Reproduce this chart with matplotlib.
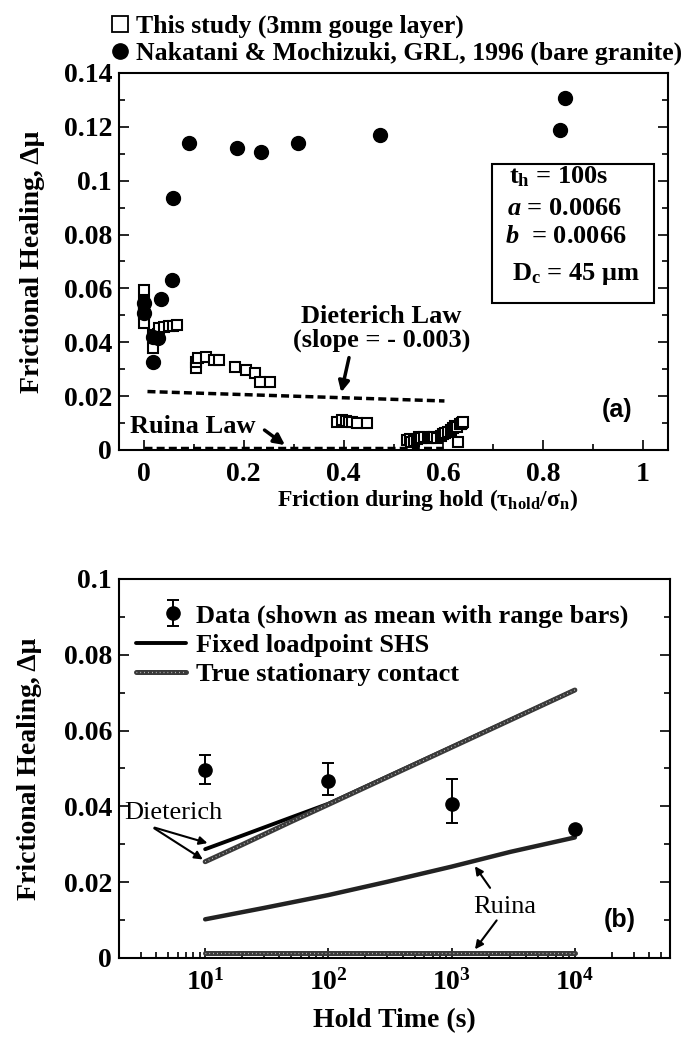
import math
import matplotlib
matplotlib.use("Agg")
import matplotlib.pyplot as plt
from matplotlib.lines import Line2D
from matplotlib.patches import Rectangle
from matplotlib.ticker import MultipleLocator, FuncFormatter
from matplotlib.legend_handler import HandlerTuple

# ---- Panel (a): healing vs friction during hold (t_h = 100 s)
study_tau = [0.001, 0.001, 0.001, 0.001, 0.001, 0.001, 0.018, 0.018, 0.028,
             0.031, 0.041, 0.051, 0.058, 0.066,
             0.105, 0.105, 0.108, 0.125, 0.141, 0.151,
             0.183, 0.205, 0.222, 0.232, 0.252,
             0.387, 0.397, 0.405, 0.410, 0.416, 0.426, 0.446,
             0.527, 0.532, 0.535, 0.541, 0.548, 0.552, 0.555, 0.562, 0.569,
             0.573, 0.578, 0.582, 0.587, 0.595, 0.600, 0.604,
             0.609, 0.615, 0.620, 0.624, 0.627, 0.633, 0.636, 0.638, 0.640, 0.629]
study_dmu = [0.0594, 0.0551, 0.0535, 0.0520, 0.0505, 0.0470, 0.0427, 0.0378, 0.0430,
             0.0452, 0.0458, 0.0460, 0.0460, 0.0464,
             0.0303, 0.0328, 0.0340, 0.0347, 0.0334, 0.0334,
             0.0309, 0.0297, 0.0287, 0.0254, 0.0254,
             0.0105, 0.0112, 0.0109, 0.0104, 0.0105, 0.0101, 0.0100,
             0.0037, 0.0040, 0.0030, 0.0035, 0.0039, 0.0048, 0.0045, 0.0047, 0.0045,
             0.0044, 0.0050, 0.0049, 0.0045, 0.0052, 0.0058, 0.0063,
             0.0068, 0.0075, 0.0080, 0.0090, 0.0087, 0.0095, 0.0098, 0.0102, 0.0105, 0.0031]
nakatani_tau = [0.001, 0.001, 0.018, 0.018, 0.028, 0.035, 0.056, 0.059,
                0.090, 0.187, 0.235, 0.308, 0.473, 0.833, 0.844]
nakatani_dmu = [0.0545, 0.0510, 0.0328, 0.0420, 0.0415, 0.0561, 0.0630, 0.0937,
                0.1139, 0.1123, 0.1108, 0.1139, 0.1170, 0.1190, 0.1306]
dieterich_law_tau = [0.007, 0.602]
dieterich_law_dmu = [0.0217, 0.0182]
ruina_law_tau = [0.0, 0.60]
ruina_law_dmu = [0.0009, 0.0009]

# ---- Panel (b): healing vs hold time
hold_time = [10, 100, 1000, 10000]
heal_mean = [0.0496, 0.0468, 0.0406, 0.0340]
heal_lo = [0.0459, 0.0430, 0.0357, 0.0340]
heal_hi = [0.0536, 0.0515, 0.0471, 0.0340]

t_dieterich = [10, 20, 50, 100, 1000, 10000]
dieterich_fixed = [0.0287, 0.0323, 0.0371, 0.0407, 0.0557, 0.0707]
dieterich_stationary = [0.0254, 0.0299, 0.0360, 0.0405, 0.0556, 0.0707]
t_ruina = [10, 30, 100, 300, 1000, 3000, 10000]
ruina_fixed = [0.0102, 0.0132, 0.0166, 0.0201, 0.0241, 0.0280, 0.0318]
t_ruina_flat = [10, 10000]
ruina_stationary = [0.0013, 0.0013]

plt.rcParams["font.family"] = ["Liberation Serif", "DejaVu Serif"]
plt.rcParams["font.weight"] = "bold"
plt.rcParams["mathtext.fontset"] = "custom"
plt.rcParams["mathtext.rm"] = "Liberation Serif:bold"
plt.rcParams["mathtext.bf"] = "Liberation Serif:bold"
plt.rcParams["mathtext.it"] = "Liberation Serif:italic:bold"
plt.rcParams["mathtext.default"] = "rm"

FS_TICK = 20
FS_TEXT = 19


def style_axes(ax):
    for sp in ax.spines.values():
        sp.set_linewidth(1.5)
    ax.tick_params(which="both", direction="in", right=True, top=False,
                   width=1.2, labelsize=FS_TICK)
    ax.tick_params(which="major", length=7)
    ax.tick_params(which="minor", length=4)


def speckled(ax, x, y):
    # heavy grey line with a broken white core, like the scanned original
    a, = ax.plot(x, y, color="#3a3a3a", lw=3.6, solid_capstyle="round")
    b, = ax.plot(x, y, color="white", lw=0.9, ls=(0, (0.6, 2.5)), alpha=0.8)
    return a, b


fig = plt.figure(figsize=(6.92, 10.38), dpi=100)
ax_a = fig.add_axes([0.172, 0.5665, 0.7934, 0.3632])
ax_b = fig.add_axes([0.172, 0.0771, 0.796, 0.3651])

# ------------------------------------------------------------------ (a)
ax_a.plot(study_tau, study_dmu, "s", mfc="white", mec="black", mew=1.5,
          ms=7, zorder=3)
ax_a.plot(nakatani_tau, nakatani_dmu, "o", color="black", ms=10, zorder=4)
ax_a.plot(dieterich_law_tau, dieterich_law_dmu, color="black", lw=2.5,
          ls=(0, (2.3, 1.2)), zorder=2)
ax_a.plot(ruina_law_tau, ruina_law_dmu, color="black", lw=2.5,
          ls=(0, (2.3, 1.2)), zorder=2)

ax_a.set_xlim(-0.05, 1.05)
ax_a.set_ylim(0, 0.14)
ax_a.xaxis.set_major_locator(MultipleLocator(0.2))
ax_a.xaxis.set_minor_locator(MultipleLocator(0.1))
ax_a.yaxis.set_major_locator(MultipleLocator(0.02))
ax_a.yaxis.set_minor_locator(MultipleLocator(0.01))
fmt = FuncFormatter(lambda v, p: f"{v:g}" if abs(v) > 1e-9 else "0")
ax_a.xaxis.set_major_formatter(fmt)
ax_a.yaxis.set_major_formatter(fmt)
style_axes(ax_a)
ax_a.tick_params(axis="x", pad=9)
ax_a.tick_params(axis="y", pad=5)

ax_a.text(0.476, 0.0451, "Dieterich Law\n(slope = - 0.003)", ha="center",
          va="center", fontsize=FS_TEXT, linespacing=1.05)
ax_a.annotate("", xy=(0.394, 0.0204), xytext=(0.412, 0.0353),
              arrowprops=dict(arrowstyle="-|>", lw=2.5, color="black",
                              mutation_scale=16))
ax_a.text(0.098, 0.0088, "Ruina Law", ha="center", va="center",
          fontsize=FS_TEXT)
ax_a.annotate("", xy=(0.287, 0.0012), xytext=(0.237, 0.0080),
              arrowprops=dict(arrowstyle="-|>", lw=2.5, color="black",
                              mutation_scale=16))
ax_a.text(0.947, 0.0149, "(a)", ha="center", va="center", fontsize=18,
          family="Liberation Sans", weight="bold")

# parameter box
ax_a.add_patch(Rectangle((0.679, 0.390), 0.296, 0.369, transform=ax_a.transAxes,
                         fill=False, lw=1.5, ec="black", zorder=5))
box_lines = ["t$_{\\rm h}$ = 100s", "$\\mathit{a}$ = 0.0066",
             "$\\mathit{b}$  = 0.0066", "D$_{\\rm c}$ = 45 \u03bcm"]
box_x = [0.710, 0.706, 0.703, 0.716]
box_y = [0.725, 0.640, 0.565, 0.468]
for s, bx, by in zip(box_lines, box_x, box_y):
    ax_a.text(bx, by, s, transform=ax_a.transAxes, ha="left", va="center",
              fontsize=FS_TEXT)

fig.text(33 / 692, 1 - 261.5 / 1038, "Frictional Healing, \u0394\u03bc",
         rotation=90, ha="center", va="center", fontsize=FS_TICK)
ax_a.text(0.561, -0.133,
          "Friction during hold (\u03c4$_{\\rm hold}$/\u03c3$_{\\rm n}$)",
          transform=ax_a.transAxes, ha="center", va="center", fontsize=17)

leg_a = [Line2D([], [], marker="s", ls="none", mfc="white", mec="black",
                mew=1.3, ms=11),
         Line2D([], [], marker="o", ls="none", color="black", ms=11)]
ax_a.legend(leg_a, ["This study (3mm gouge layer)",
                    "Nakatani & Mochizuki, GRL, 1996 (bare granite)"],
            loc="lower left", bbox_to_anchor=(-0.012, 1.02), frameon=False,
            fontsize=18.5, handlelength=0.6, handletextpad=0.3,
            labelspacing=0.15, borderpad=0, borderaxespad=0)

# ------------------------------------------------------------------ (b)
yerr = [[m - lo for m, lo in zip(heal_mean, heal_lo)],
        [hi - m for m, hi in zip(heal_mean, heal_hi)]]
eb = ax_b.errorbar(hold_time, heal_mean, yerr=yerr, fmt="o", color="black",
                   ms=9.5, capsize=4, elinewidth=1.4, capthick=1.4, zorder=5)
fixed_line, = ax_b.plot(t_dieterich, dieterich_fixed, color="black", lw=2.8,
                        solid_capstyle="round")
stat_lines = speckled(ax_b, t_dieterich, dieterich_stationary)
ax_b.plot(t_ruina, ruina_fixed, color="#222222", lw=3.2, solid_capstyle="round")
speckled(ax_b, t_ruina_flat, ruina_stationary)

ax_b.set_xscale("log")
ax_b.set_xlim(2.0, 5.9e4)
ax_b.set_ylim(0, 0.1)
ax_b.yaxis.set_major_locator(MultipleLocator(0.02))
ax_b.yaxis.set_minor_locator(MultipleLocator(0.01))
ax_b.yaxis.set_major_formatter(fmt)
ax_b.xaxis.set_major_formatter(
    FuncFormatter(lambda v, p: f"10$^{{{round(math.log10(v))}}}$"))
style_axes(ax_b)
ax_b.tick_params(axis="x", pad=8)
ax_b.tick_params(axis="y", pad=5)

ax_b.text(5.53, 0.0382, "Dieterich", ha="center", va="center",
          fontsize=FS_TEXT, weight="normal")
for hx, hy in [(10.98, 0.0301), (10.0, 0.0256)]:
    ax_b.annotate("", xy=(hx, hy), xytext=(3.70, 0.0346),
                  arrowprops=dict(arrowstyle="-|>", lw=1.5, color="black",
                                  mutation_scale=12))
ax_b.text(2711, 0.0135, "Ruina", ha="center", va="center",
          fontsize=FS_TEXT, weight="normal")
ax_b.annotate("", xy=(1500, 0.0248), xytext=(2113, 0.0179),
              arrowprops=dict(arrowstyle="-|>", lw=1.5, color="black",
                              mutation_scale=12))
ax_b.annotate("", xy=(1500, 0.0017), xytext=(2393, 0.0105),
              arrowprops=dict(arrowstyle="-|>", lw=1.5, color="black",
                              mutation_scale=12))
ax_b.text(23190, 0.0100, "(b)", ha="center", va="center", fontsize=18,
          family="Liberation Sans", weight="bold")

# errorbar symbol sits in the right half of its handle box, as in the original
blank = Line2D([], [], ls="none")
data_handle = (blank, eb)
ax_b.legend([data_handle, fixed_line, stat_lines],
            ["Data (shown as mean with range bars)", "Fixed loadpoint SHS",
             "True stationary contact"],
            handler_map={data_handle: HandlerTuple(ndivide=2, pad=0)},
            loc="upper left", bbox_to_anchor=(0.03, 0.935), frameon=False,
            fontsize=FS_TEXT, handlelength=1.9, handletextpad=0.4,
            labelspacing=0.22, borderpad=0, borderaxespad=0)

fig.text(30 / 692, 1 - 768.5 / 1038, "Frictional Healing, \u0394\u03bc",
         rotation=90, ha="center", va="center", fontsize=FS_TICK)
ax_b.text(0.5, -0.164, "Hold Time (s)", transform=ax_b.transAxes,
          ha="center", va="center", fontsize=FS_TICK)

fig.savefig("out.png", dpi=100)
